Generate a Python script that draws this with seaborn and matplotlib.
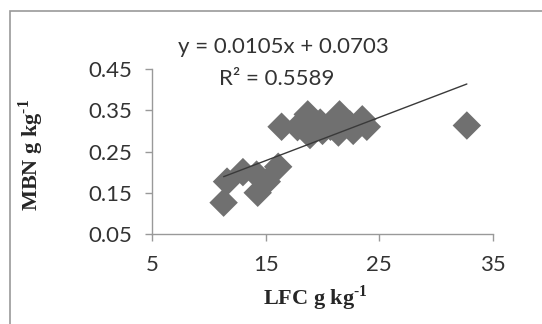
import numpy as np
import pandas as pd
import seaborn as sns
import matplotlib.pyplot as plt
from matplotlib.patches import Rectangle

# LFC (x) vs MBN (y)
lfc = [11.3, 11.6, 13.0, 14.2, 14.3, 15.1, 16.1, 16.4, 17.8, 18.3, 18.7,
       18.9, 19.8, 20.0, 20.7, 21.5, 21.4, 22.4, 22.7, 23.5, 23.9, 32.7]
mbn = [0.126, 0.177, 0.200, 0.194, 0.150, 0.177, 0.213, 0.310, 0.309, 0.316,
       0.340, 0.290, 0.320, 0.300, 0.310, 0.340, 0.296, 0.316, 0.300, 0.328,
       0.310, 0.313]
slope = 0.0105
intercept = 0.0703
xticks = [5, 15, 25, 35]
yticks = [0.05, 0.15, 0.25, 0.35, 0.45]

df = pd.DataFrame({'LFC': lfc, 'MBN': mbn})

sns.set_style('white')
plt.rcParams['mathtext.fontset'] = 'custom'
plt.rcParams['mathtext.rm'] = 'Liberation Serif:bold'
plt.rcParams['mathtext.bf'] = 'Liberation Serif:bold'

fig = plt.figure(figsize=(5.42, 3.24), dpi=100)
ax = fig.add_axes([152/542, 1 - 234/324, (493 - 152)/542, (234 - 69)/324])

sns.scatterplot(data=df, x='LFC', y='MBN', marker='D', s=210, color='#707070',
                edgecolor='none', ax=ax, zorder=3)

# linear trendline over the data range
xs = np.array([min(lfc), max(lfc)])
sns.lineplot(x=xs, y=slope * xs + intercept, color='#3a3a3a', linewidth=1.0,
             ax=ax, zorder=4)

ax.set_xlim(5, 35)
ax.set_ylim(0.05, 0.45)
ax.set_xticks(xticks)
ax.set_yticks(yticks)
ax.set_xticklabels([str(t) for t in xticks])
ax.set_yticklabels(['%.2f' % t for t in yticks])
for lab in ax.get_xticklabels() + ax.get_yticklabels():
    lab.set_family('Lato')
    lab.set_fontsize(16)
    lab.set_color('#333333')

for side in ['top', 'right']:
    ax.spines[side].set_visible(False)
for side in ['left', 'bottom']:
    ax.spines[side].set_color('#999999')
    ax.spines[side].set_linewidth(1.0)
ax.tick_params(axis='both', which='both', direction='out', length=5,
               width=1, color='#999999', left=True, bottom=True)
ax.tick_params(axis='x', pad=10)
ax.tick_params(axis='y', pad=9)

ax.set_xlabel('LFC g kg$^{\\text{-1}}$', family='Liberation Serif',
              fontweight='bold', fontsize=16)
ax.set_ylabel('MBN g kg$^{\\text{-1}}$', family='Liberation Serif',
              fontweight='bold', fontsize=16)
ax.xaxis.set_label_coords((315 - 152) / (493 - 152), -(298 - 234) / (234 - 69))
ax.yaxis.set_label_coords(-(152 - 31) / (493 - 152), 0.48)
ax.xaxis.label.set_va('center')
ax.yaxis.label.set_va('center')

fig.text(283/542, 1 - 47/324, 'y = 0.0105x + 0.0703', ha='center',
         va='center', family='Lato', fontsize=16, color='#333333')
fig.text(277/542, 1 - 79/324, 'R² = 0.5589', ha='center', va='center',
         family='Lato', fontsize=16, color='#333333')

# chart area border
fig.patches.append(Rectangle((10/542, -0.1), 1.2, 1.1 - 11/324,
                             transform=fig.transFigure, fill=False,
                             edgecolor='#999999', linewidth=1.2))

fig.savefig('out.png', dpi=100)
